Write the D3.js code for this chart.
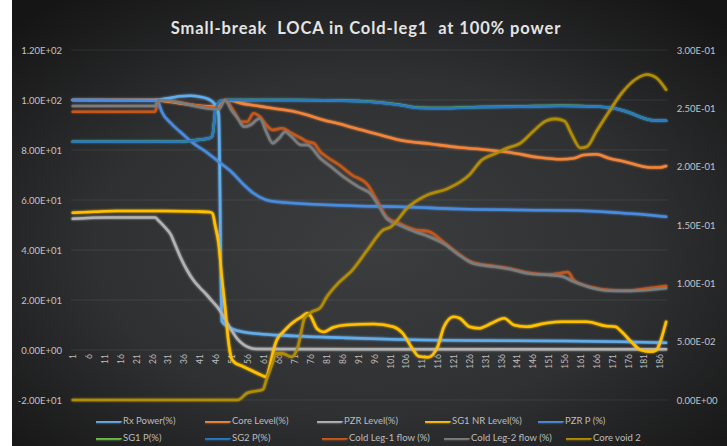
<!DOCTYPE html>
<html>
<head>
<meta charset="utf-8">
<script src="https://cdn.jsdelivr.net/npm/d3@7"></script>
<style>
  body { margin: 0; background: #ffffff; }
  svg { display: block; }
  text { font-family: Lato, "Open Sans", "Liberation Sans", sans-serif; }
</style>
</head>
<body>
<svg id="chart" width="727" height="446"></svg>
<script>
// ---- data ---------------------------------------------------------------
const chartTitle = "Small-break  LOCA in Cold-leg1  at 100% power";
const stepCount = 188;
const categories = d3.range(1, stepCount + 1);
const tickLabels = [1, 6, 11, 16, 21, 26, 31, 36, 41, 46, 51, 56, 61, 66, 71, 76, 81, 86, 91, 96,
  101, 106, 111, 116, 121, 126, 131, 136, 141, 146, 151, 156, 161, 166, 171, 176, 181, 186];
const leftTicks = [-20, 0, 20, 40, 60, 80, 100, 120];
const rightTicks = [0, 0.05, 0.1, 0.15, 0.2, 0.25, 0.3];

// [time step, value]
const rxPower = [[1,100],[27,100],[29,100.3],[32,100.9],[35,101.5],[38,101.7],[41,101.3],[44,100.2],[46,98],[47,94.5],[48,11.5],[50,9.3],[53,7.7],[57,6.8],[61,6.3],[71,5.6],[86,4.9],[101,4.3],[126,3.8],[154,3.6],[174,3.3],[188,2.9]];
const coreLevel = [[1,100],[27,100],[29,99.7],[47,97.2],[49,100],[51,99.8],[54,98.7],[59,97.7],[64,96.7],[70,95.6],[75,94],[80,92],[85,90.5],[90,88.7],[98,86],[104,84],[114,82.4],[123,81],[132,80],[139,79],[148,77],[155,76.3],[159,76.7],[162,78],[166,78.3],[170,76.7],[175,75.3],[180,73.6],[183,73],[186,73],[188,73.6]];
const pzrLevel = [[1,52.5],[12,53],[27,53],[28,51.8],[30,49.2],[32,46],[33,43],[35,37],[37,32],[39,28],[41,25],[43,22.4],[45,19.5],[47,16.5],[49,12.3],[51,8],[53,4.3],[55,2],[57,0.8],[59,0.4],[90,0.3],[130,0.3],[188,0.3]];
const sg1NrLevel = [[1,54.9],[8,55.3],[15,55.6],[30,55.6],[40,55.4],[44,55.2],[45,54.8],[46,49.2],[47,42.5],[48,29],[49,17.5],[50,4.3],[51,-3.2],[52,-5],[54,-6.2],[56,-7.4],[58,-8.6],[60,-9.8],[62,-10.8],[63,-7],[64,-1.5],[65,3],[66,5.5],[67,6.8],[70,10.6],[73,13.2],[75,14.8],[76,13.5],[78,8.5],[80,7.2],[83,9],[87,10],[96,10.4],[102,9.3],[105,6.7],[108,0.7],[110,-2.5],[113,-2.9],[116,1.3],[118,9.3],[121,13.3],[123,12.7],[126,9.3],[129,8.7],[133,10.7],[137,12.7],[140,10],[144,9.3],[150,10.7],[155,11.3],[163,11.3],[169,9.6],[172,9.3],[174,7.3],[177,3.3],[180,0],[183,-0.7],[185,0],[186,2.7],[188,11.3]];
const pzrP = [[1,100],[27,99.7],[28,99],[29,95.5],[32,90.7],[36,86],[39,82.7],[43,79.3],[47,75.3],[51,71.3],[55,66],[58,62.7],[62,60],[66,59.2],[70,58.8],[82,58],[91,57.6],[104,57.3],[123,56.4],[142,56],[161,55.7],[173,54.9],[180,54.3],[188,53.3]];
const sg1P = [[1,83.3],[34,83.3],[40,84],[44,84.7],[45,85.5],[46,96],[47,99],[48,99.8],[50,100],[70,100],[91,99.6],[98,99],[104,98.1],[110,96.9],[117,96.8],[129,97.2],[142,97.4],[155,97.7],[167,97.3],[173,96.3],[177,94.7],[180,93.1],[183,92],[188,91.7]];
const sg2P = [[1,83.3],[34,83.3],[40,84],[44,84.7],[45,85.5],[46,96],[47,99],[48,99.8],[50,100],[70,100],[91,99.5],[98,98.9],[104,98],[110,96.8],[117,96.7],[129,97.1],[142,97.3],[155,97.6],[167,97.3],[173,96.3],[177,94.7],[180,93.1],[183,92],[188,91.7]];
const coldLeg1Flow = [[1,95.3],[27,95.3],[28,100],[47,96.7],[49,100],[52,95],[54,91.3],[56,91.3],[58,94.7],[60,93.3],[62,90],[64,88],[67,88.7],[70,86.7],[73,84.7],[75,83.3],[77,82.7],[79,79.3],[81,77.3],[85,74],[89,70],[94,66],[97,59.5],[100,53],[104,50.5],[109,48],[113,47.5],[118,43],[122,39],[127,35],[134,33.5],[139,32.5],[144,31],[151,30.2],[155,30.8],[157,31.2],[159,27.8],[165,25],[170,24],[176,23.8],[182,24.6],[188,25.6]];
const coldLeg2Flow = [[1,97.6],[27,97.6],[28,100],[47,96.3],[49,100],[51,96],[53,92.7],[55,89.3],[57,90],[60,92.7],[62,87.3],[64,82.7],[66,84.7],[68,87.3],[70,85.3],[73,82],[75,82],[79,76.7],[83,72.7],[87,68.7],[91,65.3],[95,62.3],[97,58.7],[100,52.5],[104,50],[109,47.3],[113,45.5],[118,42.5],[122,38.7],[127,34.7],[134,33.3],[139,32.3],[144,30.7],[151,30],[155,29.5],[159,27.3],[165,24.7],[170,23.7],[176,23.6],[182,24],[188,24.7]];
const coreVoid2 = [[1,0],[53,0],[56,0.006],[61,0.009],[62,0.017],[64,0.032],[65,0.040],[67,0.040],[70,0.037],[72,0.046],[73,0.058],[74,0.07],[76,0.075],[79,0.079],[81,0.088],[85,0.101],[89,0.111],[94,0.129],[99,0.146],[101,0.148],[107,0.166],[113,0.176],[119,0.181],[126,0.193],[130,0.206],[134,0.211],[138,0.216],[142,0.220],[146,0.230],[150,0.239],[153,0.241],[156,0.239],[158,0.229],[161,0.216],[163,0.217],[166,0.230],[170,0.247],[174,0.263],[179,0.276],[182,0.279],[185,0.276],[188,0.266]];

const seriesNames = ["Rx Power(%)", "Core Level(%)", "PZR Level(%)", "SG1 NR Level(%)", "PZR P (%)",
  "SG1 P(%)", "SG2 P(%)", "Cold Leg-1 flow (%)", "Cold Leg-2 flow (%)", "Core void 2"];
const seriesValues = [rxPower, coreLevel, pzrLevel, sg1NrLevel, pzrP, sg1P, sg2P, coldLeg1Flow, coldLeg2Flow, coreVoid2];
const seriesColors = ["#62ade9", "#f0853a", "#b2b2b2", "#ffc000", "#4a8bdc",
  "#6cb84a", "#2a78bd", "#c2581a", "#7c7c7c", "#b08c08"];
const onRightAxis = [false, false, false, false, false, false, false, false, false, true];

// ---- layout -------------------------------------------------------------
const W = 727, H = 446;
const plot = { left: 71.1, right: 667.7, top: 50, bottom: 400 };

const svg = d3.select("#chart");
const defs = svg.append("defs");

const bg = defs.append("radialGradient").attr("id", "bgGrad")
  .attr("cx", "50%").attr("cy", "55%").attr("r", "70%");
bg.append("stop").attr("offset", "0%").attr("stop-color", "#3c3d3f");
bg.append("stop").attr("offset", "55%").attr("stop-color", "#2f3032");
bg.append("stop").attr("offset", "100%").attr("stop-color", "#151515");

const glow = defs.append("filter").attr("id", "glow")
  .attr("filterUnits", "userSpaceOnUse")
  .attr("x", 0).attr("y", 0).attr("width", W).attr("height", H);
glow.append("feGaussianBlur").attr("in", "SourceGraphic").attr("stdDeviation", 1.3).attr("result", "b");
const merge = glow.append("feMerge");
merge.append("feMergeNode").attr("in", "b");
merge.append("feMergeNode").attr("in", "SourceGraphic");

svg.append("rect").attr("x", 12).attr("y", 0).attr("width", W - 12).attr("height", H)
  .attr("fill", "url(#bgGrad)");

// ---- scales -------------------------------------------------------------
const x = d3.scalePoint().domain(categories).range([plot.left, plot.right]).padding(0.5);
const yL = d3.scaleLinear().domain([-20, 120]).range([plot.bottom, plot.top]);
const yR = d3.scaleLinear().domain([0, 0.3]).range([plot.bottom, plot.top]);

function sci(v) {
  if (v === 0) return "0.00E+00";
  const e = Math.floor(Math.log10(Math.abs(v)) + 1e-9);
  const m = v / Math.pow(10, e);
  const es = (e < 0 ? "-" : "+") + String(Math.abs(e)).padStart(2, "0");
  return m.toFixed(2) + "E" + es;
}

// gridlines
svg.append("g").selectAll("line").data(leftTicks).join("line")
  .attr("x1", plot.left).attr("x2", plot.right)
  .attr("y1", d => yL(d)).attr("y2", d => yL(d))
  .attr("stroke", "rgba(255,255,255,0.08)").attr("stroke-width", 1);

// left axis
const axL = svg.append("g").attr("transform", `translate(${plot.left},0)`)
  .call(d3.axisLeft(yL).tickValues(leftTicks).tickFormat(sci).tickSize(0).tickPadding(9));
axL.select(".domain").remove();
axL.selectAll("text").attr("fill", "#c4c4c4").style("font-size", "9.5px");

// right axis
const axR = svg.append("g").attr("transform", `translate(${plot.right},0)`)
  .call(d3.axisRight(yR).tickValues(rightTicks).tickFormat(sci).tickSize(0).tickPadding(9));
axR.select(".domain").remove();
axR.selectAll("text").attr("fill", "#c4c4c4").style("font-size", "9.5px");

// category axis crossing at zero
const axX = svg.append("g").attr("transform", `translate(0,${yL(0)})`)
  .call(d3.axisBottom(x).tickValues(tickLabels).tickSize(0));
axX.select(".domain").remove();
axX.selectAll("text")
  .attr("transform", "rotate(-90)")
  .attr("text-anchor", "end")
  .attr("x", -4).attr("y", 0).attr("dy", "0.35em")
  .attr("fill", "#bdbdbd").style("font-size", "8.5px");

// ---- series -------------------------------------------------------------
const lines = svg.append("g").attr("filter", "url(#glow)");
seriesValues.forEach((vals, i) => {
  const ys = onRightAxis[i] ? yR : yL;
  const gen = d3.line().x(d => x(d[0])).y(d => ys(d[1])).curve(d3.curveMonotoneX);
  lines.append("path").datum(vals)
    .attr("d", gen)
    .attr("fill", "none")
    .attr("stroke", seriesColors[i])
    .attr("stroke-width", 2.6)
    .attr("stroke-linejoin", "round")
    .attr("stroke-linecap", "round");
});

// ---- title --------------------------------------------------------------
svg.append("text").attr("x", 366).attr("y", 34)
  .attr("text-anchor", "middle")
  .style("white-space", "pre")
  .style("font-size", "16.5px").style("font-weight", "bold")
  .style("letter-spacing", "0.9px")
  .attr("fill", "#e4e4e4")
  .text(chartTitle);

// ---- legend -------------------------------------------------------------
const legendCols = [[96, 205, 317, 425, 538], [96, 205, 322, 444, 566]];
const legendRows = [421, 438];
const leg = svg.append("g");
seriesNames.forEach((name, i) => {
  const row = Math.floor(i / 5), col = i % 5;
  const lx = legendCols[row][col], ly = legendRows[row];
  const g = leg.append("g").attr("transform", `translate(${lx},${ly})`);
  g.append("line").attr("x1", 0).attr("x2", 24).attr("y1", 0).attr("y2", 0)
    .attr("stroke", seriesColors[i]).attr("stroke-width", 3.5).attr("stroke-linecap", "round")
    .attr("filter", "url(#glow)");
  g.append("text").attr("x", 27).attr("y", 0).attr("dy", "0.35em")
    .attr("fill", "#bdbdbd").style("font-size", "9.5px")
    .text(name);
});
</script>
</body>
</html>
